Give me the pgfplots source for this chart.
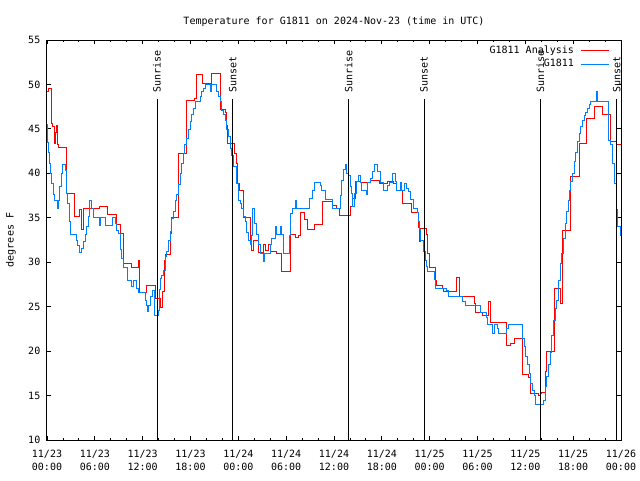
\documentclass[border=0pt]{standalone}
\usepackage{fontspec}
\setmainfont{DejaVu Sans Mono}
\usepackage{pgfplots}
\pgfplotsset{compat=1.18}
\definecolor{gred}{RGB}{255,0,0}
\definecolor{gblue}{RGB}{0,128,255}
\newcommand{\gf}{\fontsize{7.5pt}{9.75pt}\selectfont}
\pgfplotsset{legend image code/.code={\draw[#1, draw=none, fill=none, mark=none] (0pt,0pt) -- (1pt,0pt);\draw[mark repeat=2,mark phase=2,#1] plot coordinates {(3.5pt,0pt) (14pt,0pt) (24.5pt,0pt)};}}
\begin{document}
\begin{tikzpicture}
\useasboundingbox (0,0) rectangle (480pt,360pt);
\begin{axis}[
  at={(35.25pt,30pt)}, anchor=south west,
  scale only axis, width=430.5pt, height=300pt,
  xmin=0, xmax=72, ymin=10, ymax=55,
  xtick={0,6,...,72}, minor x tick num=2,
  ytick={10,15,...,55},
  xticklabels={{11/23\\00:00},{11/23\\06:00},{11/23\\12:00},{11/23\\18:00},{11/24\\00:00},{11/24\\06:00},{11/24\\12:00},{11/24\\18:00},{11/25\\00:00},{11/25\\06:00},{11/25\\12:00},{11/25\\18:00},{11/26\\00:00}},
  xticklabel style={align=center, font=\gf, yshift=-4pt},
  yticklabel style={font=\gf, xshift=-1.5pt},
  /pgf/number format/assume math mode=true,
  major tick length=3pt, minor tick length=1.5pt,
  tick style={black, line width=0.6pt},
  axis line style={line width=0.75pt},
  title={Temperature for G1811 on 2024-Nov-23 (time in UTC)},
  title style={font=\gf, at={(0.5,1)}, anchor=base, yshift=5.5pt},
  ylabel={degrees F},
  ylabel style={font=\gf, at={(axis description cs:-0.063,0.5)}, anchor=center},
  legend style={draw=none, fill=none, at={(rel axis cs:1,1)}, anchor=north east, xshift=-8.25pt, yshift=-2.25pt, font=\gf, row sep=-1.2pt, inner sep=0pt},
  legend cell align=right,
  legend plot pos=right,
]
\addplot[gred, line width=0.75pt, const plot] coordinates {
(0,49.2) (0.2,49.6) (0.6,45.6) (0.75,45.25) (0.9,44.7) (1.0,43.4) (1.1,44.6) (1.2,45.4) (1.3,43.2) (1.45,42.9)
(2.5,37.75) (3.51,35.2) (4.02,35.9) (4.35,33.7) (4.56,36.05) (6.57,36.3) (7.61,35.4) (8.66,34.2) (9.16,33.25)
(9.58,29.9) (10.62,29.4) (11.46,30.2) (11.58,26.6) (12.42,27.4) (13.55,25.9) (14.18,24.9) (14.51,26.7)
(14.68,30.25) (14.81,30.9) (15.43,33.25) (15.64,35.05) (16.48,42.25) (17.52,48.25) (18.44,48.4) (18.78,51.1)
(19.49,50.1) (20.66,51.2) (21.71,47.2) (22.33,46.9) (22.46,45.4) (22.6,43.4) (23.5,42.25) (23.71,41.1)
(23.88,38.9) (24.09,38.1) (24.63,35.05) (25.47,32.5) (25.68,31.3) (25.89,32.4) (26.52,31.1) (27.14,32.0)
(27.35,31.3) (27.77,32.0) (27.98,31.2) (28.82,31.0) (29.45,29.0) (30.49,33.1) (31.12,32.8) (31.53,33.0)
(31.74,35.6) (32.29,34.8) (32.71,33.7) (33.54,34.3) (34.59,36.8) (35.84,36.4) (36.35,36.1) (36.68,35.3)
(38.1,36.25) (38.35,37.2) (38.65,39.05) (39.27,38.95) (40.6,39.25) (41.7,38.9) (42.7,39.05) (43.45,38.9)
(43.87,38.1) (44.63,36.6) (45.67,35.6) (46.6,33.9) (46.72,32.3) (46.88,33.8) (47.64,33.1) (47.76,31.0)
(47.93,29.4) (48.68,28.0) (48.81,27.35) (49.6,27.0) (49.72,26.7) (51.4,28.3) (51.69,26.1) (53.49,26.2)
(53.6,25.4) (53.78,24.4) (54.67,24.06) (55.37,25.6) (55.67,23.2) (57.68,20.6) (58.09,20.9) (58.64,21.4)
(59.69,17.4) (60.39,17.0) (60.6,15.25) (61.65,15.0) (61.86,15.25) (62.07,15.4) (62.57,17.7) (62.7,20.0)
(63.65,27.1) (64.45,25.4) (64.6,33.6) (65.62,39.7) (66.75,43.4) (67.63,46.2) (68.67,47.5) (69.72,46.6)
(70.64,43.55) (71.48,43.3) (72,43.3)
};
\addlegendentry{G1811 Analysis}
\addplot[gblue, line width=0.75pt, const plot] coordinates {
(0,45.5) (0.12,43.5) (0.2,42.4) (0.29,41.1) (0.4,40.0) (0.59,38.9) (0.8,37.6) (1.0,37.0) (1.3,36.05) (1.42,37.0)
(1.63,38.5) (1.76,40.0) (1.92,41.05) (2.34,40.3) (2.47,37.75) (2.55,36.6) (2.8,34.55) (2.97,33.1) (3.64,32.5)
(3.81,31.9) (4.06,31.1) (4.35,31.6) (4.56,32.3) (4.77,33.1) (4.98,34.0) (5.19,35.1) (5.39,37.0) (5.6,36.05)
(5.81,35.05) (6.57,34.1) (6.69,35.05) (7.36,34.1) (8.24,35.05) (8.53,34.4) (8.74,33.6) (8.95,33.25) (9.16,31.4)
(9.37,30.4) (9.58,29.4) (10.08,28.0) (10.62,27.3) (10.83,28.0) (11.17,27.0) (11.46,26.6) (12.3,25.65)
(12.42,25.1) (12.59,24.45) (12.76,25.1) (12.92,26.1) (13.22,26.8) (13.47,24.05) (13.97,24.6) (14.1,26.9)
(14.26,28.2) (14.39,28.5) (14.6,29.1) (14.81,30.6) (15.02,31.2) (15.22,32.5) (15.43,33.5) (15.64,34.9)
(15.85,35.7) (16.06,37.0) (16.27,37.6) (16.48,38.7) (16.69,40.0) (16.9,41.1) (17.1,42.25) (17.31,43.2)
(17.52,43.9) (17.73,44.9) (17.94,45.8) (18.15,46.6) (18.36,47.3) (18.57,48.1) (19.2,48.6) (19.41,49.2)
(19.62,49.6) (19.82,50.05) (20.45,49.2) (20.58,50.05) (21.29,49.2) (21.5,48.6) (21.71,48.1) (21.92,47.1)
(22.13,46.6) (22.33,46.0) (22.54,44.9) (22.75,44.1) (22.96,42.8) (23.17,42.0) (23.38,40.75) (23.71,38.9)
(24.01,37.0) (24.21,36.6) (24.42,36.05) (24.63,35.1) (24.84,34.6) (25.05,33.4) (25.26,32.5) (25.47,32.05)
(25.68,33.0) (25.81,36.05) (25.97,34.4) (26.22,33.1) (26.52,32.05) (26.73,31.0) (27.14,30.05) (27.27,31.0)
(27.98,32.0) (28.19,32.7) (28.61,34.0) (28.82,33.1) (29.23,34.0) (29.36,33.1) (29.65,31.0) (30.36,33.0)
(30.57,35.5) (30.82,36.05) (31.12,37.0) (31.24,36.05) (32.98,37.2) (33.29,38.1) (33.54,39.0) (34.25,38.6)
(34.46,38.1) (34.88,37.1) (35.84,36.05) (36.76,37.5) (36.97,39.25) (37.18,40.4) (37.39,41.05) (37.6,40.0)
(37.81,39.8) (38.02,38.5) (38.14,37.75) (38.35,36.25) (38.56,37.75) (38.77,39.05) (39.06,39.8) (39.27,39.0)
(39.48,38.1) (40.02,37.6) (40.19,39.0) (40.53,39.45) (40.86,40.2) (41.07,41.05) (41.49,40.2) (41.78,39.0)
(42.2,38.1) (42.7,38.6) (42.95,39.0) (43.37,40.0) (43.66,39.05) (43.87,38.1) (44.29,39.0) (44.5,38.1)
(44.79,38.9) (45.13,38.3) (45.34,37.95) (45.54,37.1) (45.96,36.05) (46.47,35.6) (46.59,34.55) (46.72,33.7)
(46.88,32.5) (47.22,31.2) (47.43,30.25) (47.64,29.5) (47.72,29.0) (48.56,28.1) (48.77,27.0) (50.15,26.8)
(50.36,26.1) (52.16,25.55) (52.45,25.1) (54.33,24.4) (55.08,23.8) (55.25,23.05) (55.88,22.0) (56.09,23.05)
(56.5,22.5) (56.63,22.0) (57.67,22.5) (57.88,23.0) (59.68,21.4) (59.85,20.5) (60.06,19.4) (60.27,18.45)
(60.48,17.5) (60.69,16.4) (60.9,15.6) (61.1,15.05) (61.31,14.05) (62.28,14.5) (62.48,16.0) (62.69,17.1)
(62.9,18.45) (63.11,19.9) (63.32,21.8) (63.53,23.5) (63.74,24.8) (63.95,25.75) (64.16,28.0) (64.37,29.9)
(64.58,31.0) (64.79,32.7) (65.0,34.4) (65.2,35.7) (65.41,37.0) (65.54,38.1) (65.71,39.05) (65.92,40.0)
(66.12,41.3) (66.33,42.4) (66.54,43.55) (66.75,44.5) (66.96,45.25) (67.17,46.0) (67.38,46.5) (67.58,46.9)
(67.79,47.3) (68.0,47.7) (68.21,48.1) (68.88,49.2) (69.0,48.1) (70.43,43.75) (70.72,43.3) (70.97,41.1)
(71.18,38.9) (71.39,35.9) (71.56,34.0) (71.89,33.0) (72,33.0)
};
\addlegendentry{G1811}
\addplot[black, line width=0.75pt, forget plot] coordinates {(13.8,10) (13.8,48.4)};
\addplot[black, line width=0.75pt, forget plot] coordinates {(23.3,10) (23.3,48.4)};
\addplot[black, line width=0.75pt, forget plot] coordinates {(37.85,10) (37.85,48.4)};
\addplot[black, line width=0.75pt, forget plot] coordinates {(47.3,10) (47.3,48.4)};
\addplot[black, line width=0.75pt, forget plot] coordinates {(61.9,10) (61.9,48.4)};
\addplot[black, line width=0.75pt, forget plot] coordinates {(71.45,10) (71.45,48.4)};
\node[rotate=90, anchor=west, inner sep=0pt, font=\gf] at (axis cs:13.8,49.1) {Sunrise};
\node[rotate=90, anchor=west, inner sep=0pt, font=\gf] at (axis cs:23.3,49.1) {Sunset};
\node[rotate=90, anchor=west, inner sep=0pt, font=\gf] at (axis cs:37.85,49.1) {Sunrise};
\node[rotate=90, anchor=west, inner sep=0pt, font=\gf] at (axis cs:47.3,49.1) {Sunset};
\node[rotate=90, anchor=west, inner sep=0pt, font=\gf] at (axis cs:61.9,49.1) {Sunrise};
\node[rotate=90, anchor=west, inner sep=0pt, font=\gf] at (axis cs:71.45,49.1) {Sunset};
\end{axis}
\end{tikzpicture}
\end{document}
